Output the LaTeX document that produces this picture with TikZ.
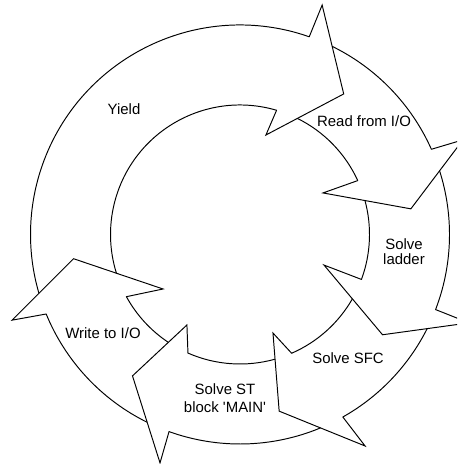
\documentclass[tikz,border=0pt]{standalone}
\usepackage{fontspec}
\setmainfont{Liberation Sans}
\usepackage{tkz-euclide}

\tikzset{
  ring/.style={line width=.55pt,line join=miter},
  stage/.style={font=\fontsize{8.5}{8.6}\selectfont,align=center,inner sep=0pt}
}

\begin{document}
\begin{tikzpicture}
                \fill[white] (-4.8,-4.59) rectangle (4.34,4.69);
                \clip (-4.8,-4.59) rectangle (4.34,4.69);
                \tkzDefPoint(0,0){O}
                % Yield
                \tkzDefPoint(196.3:4.19){Y1} \tkzDefPoint(197.4:2.59){Y2}
                \tkzDefPoint(70.7:4.19){Y3} \tkzDefPoint(70.3:4.874){Y4}
                \tkzDefPoint(75.4:2.056){Y6} \tkzDefPoint(73.6:2.59){Y7}
                % Read from I/O
                \tkzDefPoint(63.9:4.19){R1} \tkzDefPoint(63.7:2.59){R2}
                \tkzDefPoint(24.0:4.19){R3} \tkzDefPoint(23.0:4.844){R4}
                \tkzDefPoint(26.6:1.856){R6} \tkzDefPoint(24.6:2.59){R7}
                % Solve ladder
                \tkzDefPoint(17.7:4.19){L1} \tkzDefPoint(15.2:2.59){L2}
                \tkzDefPoint(-21.0:4.19){L3} \tkzDefPoint(-21.1:4.91){L4}
                \tkzDefPoint(-20.0:1.788){L6} \tkzDefPoint(-20.3:2.59){L7}
                % Solve SFC
                \tkzDefPoint(-26.7:4.19){S1} \tkzDefPoint(-29.8:2.59){S2}
                \tkzDefPoint(-60.6:4.19){S3} \tkzDefPoint(-59.4:4.914){S4}
                \tkzDefPoint(-71.5:2.078){S6} \tkzDefPoint(-66.5:2.59){S7}
                % Solve ST block
                \tkzDefPoint(-67.4:4.19){T1} \tkzDefPoint(-74.3:2.59){T2}
                \tkzDefPoint(-109.8:4.19){T3} \tkzDefPoint(-109.3:4.84){T4}
                \tkzDefPoint(-120.4:2.098){T6} \tkzDefPoint(-113.7:2.59){T7}
                % Write to I/O
                \tkzDefPoint(-116.3:4.19){W1} \tkzDefPoint(-123.6:2.59){W2}
                \tkzDefPoint(-157.7:4.19){W3} \tkzDefPoint(-159.4:4.87){W4}
                \tkzDefPoint(-144.7:1.886){W6} \tkzDefPoint(-151.3:2.59){W7}
                % each tip sits where the barbs meet the tail of the next step
                \tkzInterLL(Y4,R1)(Y6,R2) \tkzGetPoint{Y5}
                \tkzInterLL(R4,L1)(R6,L2) \tkzGetPoint{R5}
                \tkzInterLL(L4,S1)(L6,S2) \tkzGetPoint{L5}
                \tkzInterLL(S4,T1)(S6,T2) \tkzGetPoint{S5}
                \tkzInterLL(T4,W1)(T6,W2) \tkzGetPoint{T5}
                \tkzInterLL(W4,Y1)(W6,Y2) \tkzGetPoint{W5}
                % ring
                \tkzDrawArc[ring](O,Y3)(Y1) \tkzDrawArc[ring](O,Y7)(Y2)
                \tkzDrawArc[ring](O,R3)(R1) \tkzDrawArc[ring](O,R7)(R2)
                \tkzDrawArc[ring](O,L3)(L1) \tkzDrawArc[ring](O,L7)(L2)
                \tkzDrawArc[ring](O,S3)(S1) \tkzDrawArc[ring](O,S7)(S2)
                \tkzDrawArc[ring](O,T3)(T1) \tkzDrawArc[ring](O,T7)(T2)
                \tkzDrawArc[ring](O,W3)(W1) \tkzDrawArc[ring](O,W7)(W2)
                % heads
                \tkzDrawPolySeg[ring](Y3,Y4,Y5,Y6,Y7)
                \tkzDrawPolySeg[ring](R3,R4,R5,R6,R7)
                \tkzDrawPolySeg[ring](L3,L4,L5,L6,L7)
                \tkzDrawPolySeg[ring](S3,S4,S5,S6,S7)
                \tkzDrawPolySeg[ring](T3,T4,T5,T6,T7)
                \tkzDrawPolySeg[ring](W3,W4,W5,W6,W7)
                \node[stage] (yield) at (-2.32,2.51) {Yield};
                \node[stage] (read) at (2.48,2.27) {Read from I/O};
                \node[stage] (ladder) at (3.28,-0.35) {Solve\\ladder};
                \node[stage] (sfc) at (2.16,-2.47) {Solve SFC};
                \node[stage] (main) at (-0.30,-3.28) {Solve ST\\[1.5pt]block \textquotesingle MAIN\textquotesingle};
                \node[stage] (write) at (-2.74,-1.97) {Write to I/O};
            \end{tikzpicture}
\end{document}
